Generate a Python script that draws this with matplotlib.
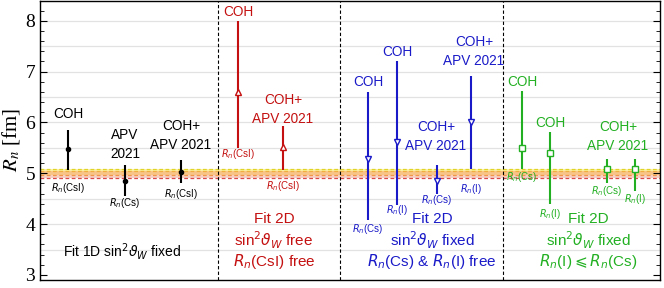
import matplotlib
matplotlib.use("Agg")
import matplotlib.pyplot as plt
import numpy as np

# ---------------- data ----------------
# panel 1 (black): Fit 1D
p1_x = [68, 125, 181]
p1_c = [5.47, 4.85, 5.03]
p1_lo = [5.065, 4.555, 4.80]
p1_hi = [5.85, 5.16, 5.27]
# panel 2 (red): Fit 2D sin2 free, Rn(CsI) free
p2_x = [238, 283]
p2_c = [6.59, 5.52]
p2_lo = [5.49, 5.065]
p2_hi = [8.00, 5.94]
# panel 3 (blue): Rn(Cs) & Rn(I) free
p3_x = [368, 397, 437, 471]
p3_c = [5.29, 5.61, 4.85, 6.00]
p3_lo = [4.08, 4.37, 4.59, 5.08]
p3_hi = [6.60, 7.20, 5.16, 6.91]
# panel 4 (green): Rn(I) <= Rn(Cs)
p4_x = [522, 550, 607, 635]
p4_c = [5.50, 5.39, 5.08, 5.08]
p4_lo = [5.08, 4.39, 4.80, 4.65]
p4_hi = [6.61, 5.81, 5.29, 5.29]

# theory band levels
band_levels = [4.90, 4.96, 5.04, 5.09]
panel_sep = [218, 340, 503]

yticks = [3, 4, 5, 6, 7, 8]

# ---------------- figure ----------------
fig = plt.figure(figsize=(6.64, 2.88), dpi=100)
ax = fig.add_axes([40/664, 8/288, 620/664, 279/288])
ax.set_xlim(40, 660)
ax.set_ylim(2.9, 8.39)

# grid every 0.5
for g in np.arange(3.5, 8.01, 0.5):
    ax.axhline(g, color='#e2e2e2', lw=0.9, zorder=0)

# band
ax.axhspan(band_levels[2], band_levels[3], color='#fcf0a0', lw=0, zorder=1)
ax.axhspan(band_levels[1], band_levels[2], color='#f8c488', lw=0, zorder=1)
ax.axhspan(band_levels[0], band_levels[1], color='#f8cfc4', lw=0, zorder=1)
band_cols = ['#d84848', '#f09848', '#f0b040', '#e0d428']
for lv, c in zip(band_levels, band_cols):
    ax.axhline(lv, color=c, lw=0.9, ls=(0, (3, 2)), zorder=2)

for xs in panel_sep:
    ax.axvline(xs, color='black', lw=0.8, ls=(0, (3, 2)), zorder=2)

def draw(xs, c, lo, hi, color, marker, ms, mfc):
    c = np.array(c); lo = np.array(lo); hi = np.array(hi)
    ax.errorbar(xs, c, yerr=[c - lo, hi - c], fmt='none', ecolor=color,
                elinewidth=1.5, capsize=0, zorder=3)
    ax.plot(xs, c, ls='none', marker=marker, ms=ms, mfc=mfc, mec=color,
            mew=1.0, zorder=4)

BLACK = '#000000'
RED = '#c41010'
BLUE = '#1a1ac8'
GREEN = '#22b022'

draw(p1_x, p1_c, p1_lo, p1_hi, BLACK, 'o', 3, BLACK)
draw(p2_x, p2_c, p2_lo, p2_hi, RED, '^', 4.5, 'white')
draw(p3_x, p3_c, p3_lo, p3_hi, BLUE, 'v', 4.5, 'white')
draw(p4_x, p4_c, p4_lo, p4_hi, GREEN, 's', 4, 'white')

SANS = ['Liberation Sans', 'DejaVu Sans']
FS = 9.8
LS = 1.45

def lab(x, y, s, color, fs=FS):
    ax.text(x, y, s, color=color, fontsize=fs, family=SANS, ha='center',
            va='center', linespacing=LS, math_fontfamily='dejavusans', zorder=5)

def sub(x, y, s, color):
    ax.text(x, y, s, color=color, fontsize=7, family=SANS, ha='center',
            va='center', math_fontfamily='dejavusans', zorder=5)

FIT = 11
# panel 1 labels
lab(68, 6.16, 'COH', BLACK)
lab(125, 5.57, 'APV\n2021', BLACK)
lab(181, 5.74, 'COH+\nAPV 2021', BLACK)
sub(68, 4.71, r'$R_n$(CsI)', BLACK)
sub(125, 4.41, r'$R_n$(Cs)', BLACK)
sub(181, 4.59, r'$R_n$(CsI)', BLACK)
lab(122, 3.47, r'Fit 1D sin$^2\vartheta_W$ fixed', BLACK, 10)

# panel 2 labels
lab(238, 8.18, 'COH', RED)
lab(283, 6.26, 'COH+\nAPV 2021', RED)
sub(238, 5.37, r'$R_n$(CsI)', RED)
sub(283, 4.75, r'$R_n$(CsI)', RED)
lab(274, 4.10, 'Fit 2D', RED, FIT)
lab(274, 3.69, r'sin$^2\vartheta_W$ free', RED, FIT)
lab(274, 3.27, r'$R_n$(CsI) free', RED, FIT)

# panel 3 labels
lab(368, 6.80, 'COH', BLUE)
lab(397, 7.39, 'COH', BLUE)
lab(436, 5.72, 'COH+\nAPV 2021', BLUE)
lab(474, 7.40, 'COH+\nAPV 2021', BLUE)
sub(368, 3.90, r'$R_n$(Cs)', BLUE)
sub(397, 4.27, r'$R_n$(I)', BLUE)
sub(437, 4.47, r'$R_n$(Cs)', BLUE)
sub(471, 4.69, r'$R_n$(I)', BLUE)
lab(432, 4.10, 'Fit 2D', BLUE, FIT)
lab(432, 3.69, r'sin$^2\vartheta_W$ fixed', BLUE, FIT)
lab(432, 3.27, r'$R_n$(Cs) & $R_n$(I) free', BLUE, FIT)

# panel 4 labels
lab(522, 6.80, 'COH', GREEN)
lab(550, 5.98, 'COH', GREEN)
lab(618, 5.72, 'COH+\nAPV 2021', GREEN)
sub(522, 4.92, r'$R_n$(Cs)', GREEN)
sub(550, 4.20, r'$R_n$(I)', GREEN)
sub(607, 4.65, r'$R_n$(Cs)', GREEN)
sub(635, 4.49, r'$R_n$(I)', GREEN)
lab(588, 4.10, 'Fit 2D', GREEN, FIT)
lab(588, 3.69, r'sin$^2\vartheta_W$ fixed', GREEN, FIT)
lab(588, 3.27, r'$R_n$(I)$\leqslant R_n$(Cs)', GREEN, FIT)

# axes styling
ax.set_xticks([])
ax.set_yticks(yticks)
ax.set_yticks(np.arange(3.0, 8.4, 0.2), minor=True)
ax.tick_params(axis='y', which='both', direction='in', left=True, right=True,
               labelsize=14)
ax.tick_params(axis='y', which='major', length=5, width=0.8)
ax.tick_params(axis='y', which='minor', length=3, width=0.6)
for t in ax.get_yticklabels():
    t.set_family('Liberation Serif')
for sp in ax.spines.values():
    sp.set_linewidth(1.0)
ax.set_ylabel(r'$R_n$ [fm]', fontsize=15, family='Liberation Serif',
              math_fontfamily='stix')
ax.yaxis.set_label_coords(-0.029, 0.5)

fig.savefig('out.png', dpi=100)
